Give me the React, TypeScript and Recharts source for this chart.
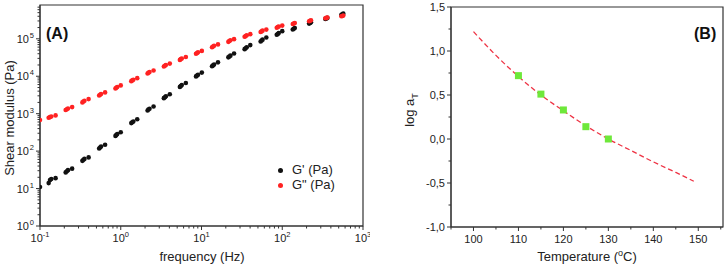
import React from "react";
import {
  ScatterChart,
  ComposedChart,
  Scatter,
  Line,
  XAxis,
  YAxis,
  ReferenceArea,
  Label,
} from "recharts";

// ---- panel A: G' / G'' master curve (frequency Hz, modulus Pa) ----
const gPrime: [number, number][] = [
  [0.1, 11],
  [0.128, 14], [0.133, 17], [0.138, 18], [0.156, 19],
  [0.208, 27], [0.215, 29], [0.222, 31], [0.25, 34],
  [0.335, 55], [0.345, 59], [0.355, 62], [0.4, 68],
  [0.54, 118], [0.555, 125], [0.57, 132], [0.64, 148],
  [0.86, 255], [0.88, 270], [0.905, 285], [1.0, 320],
  [1.35, 560], [1.39, 590], [1.43, 620], [1.6, 710],
  [2.15, 1220], [2.2, 1290], [2.27, 1360], [2.55, 1560],
  [3.42, 2600], [3.52, 2750], [3.62, 2900], [4.05, 3300],
  [5.4, 5200], [5.55, 5500], [5.7, 5800], [6.4, 6600],
  [8.55, 9900], [8.8, 10400], [9.05, 10900], [10.1, 12500],
  [13.5, 18500], [13.9, 19500], [14.3, 20500], [16, 23500],
  [21.5, 32000], [22.1, 33500], [22.8, 35500], [25.3, 40500],
  [34.2, 53000], [35.2, 56000], [36.3, 59500], [40.2, 68000],
  [54, 85000], [55.5, 90000], [57, 95000], [63.5, 108000],
  [85.5, 128000], [88, 135000], [90.5, 142000], [100, 160000],
  [135, 178000], [139, 186000], [143, 195000],
  [215, 255000], [221, 265000], [227, 275000],
  [342, 340000], [352, 350000], [362, 362000],
  [540, 440000], [556, 455000], [570, 470000],
];

const gDouble: [number, number][] = [
  [0.1, 680],
  [0.128, 780], [0.133, 810], [0.138, 840], [0.156, 900],
  [0.208, 1250], [0.215, 1310], [0.222, 1370], [0.25, 1500],
  [0.335, 2000], [0.345, 2120], [0.355, 2220], [0.4, 2450],
  [0.54, 3050], [0.555, 3200], [0.57, 3350], [0.64, 3700],
  [0.86, 4700], [0.88, 4950], [0.905, 5150], [1.0, 5700],
  [1.35, 7400], [1.39, 7750], [1.43, 8050], [1.6, 8900],
  [2.15, 11800], [2.2, 12400], [2.27, 12900], [2.55, 14200],
  [3.42, 18200], [3.52, 19100], [3.62, 19900], [4.05, 21800],
  [5.4, 27300], [5.55, 28700], [5.7, 29900], [6.4, 32800],
  [8.55, 39800], [8.8, 41800], [9.05, 43500], [10.1, 47500],
  [13.5, 59500], [13.9, 62500], [14.3, 65500], [16, 71000],
  [21.5, 83000], [22.1, 87000], [22.8, 91000], [25.3, 98000],
  [34.2, 113000], [35.2, 118000], [36.3, 124000], [40.2, 133000],
  [54, 152000], [55.5, 158000], [57, 165000], [63.5, 176000],
  [85.5, 198000], [88, 206000], [90.5, 214000], [100, 225000],
  [135, 248000], [139, 256000], [143, 265000],
  [215, 295000], [221, 303000], [227, 312000],
  [342, 355000], [352, 362000], [362, 370000],
  [540, 400000], [556, 408000], [570, 418000],
];

const freqTicks = [
  0.1, 0.2, 0.3, 0.4, 0.5, 0.6, 0.7, 0.8, 0.9,
  1, 2, 3, 4, 5, 6, 7, 8, 9,
  10, 20, 30, 40, 50, 60, 70, 80, 90,
  100, 200, 300, 400, 500, 600, 700, 800, 900, 1000,
];
const modTicks = [
  1, 2, 3, 4, 5, 6, 7, 8, 9,
  10, 20, 30, 40, 50, 60, 70, 80, 90,
  100, 200, 300, 400, 500, 600, 700, 800, 900,
  1000, 2000, 3000, 4000, 5000, 6000, 7000, 8000, 9000,
  10000, 20000, 30000, 40000, 50000, 60000, 70000, 80000, 90000,
  100000, 200000, 300000, 400000, 500000, 600000, 700000,
];

// ---- panel B: shift factors ----
const fitCurve: [number, number][] = [
  [100, 1.22], [105, 0.95], [110, 0.71], [115, 0.5], [120, 0.32],
  [125, 0.15], [130, 0.0], [135, -0.13], [140, -0.26], [145, -0.38],
  [149, -0.48],
];
const shiftPoints: [number, number][] = [
  [110, 0.72], [115, 0.51], [120, 0.33], [125, 0.14], [130, 0.0],
];
const tempTicks = [95, 100, 105, 110, 115, 120, 125, 130, 135, 140, 145, 150, 155];
const logTicks = [-1, -0.75, -0.5, -0.25, 0, 0.25, 0.5, 0.75, 1, 1.25, 1.5];

const AX = "#333";
const FONT = "'Liberation Sans', Arial, sans-serif";
const TXT = "#222";

const isDecade = (v: number) => {
  const l = Math.log10(v);
  return Math.abs(l - Math.round(l)) < 1e-6;
};

const LogTickX = ({ x, y, payload }: any) => {
  const v = payload.value;
  const major = isDecade(v);
  return (
    <g>
      <line x1={x} x2={x} y1={y} y2={y + (major ? 4 : 2.5)} stroke={AX} />
      {major && (
        <text x={x} y={y + 16} textAnchor="middle" fontSize={11} fill={TXT} fontFamily={FONT}>
          10
          <tspan dy={-5} fontSize={7.5}>
            {Math.round(Math.log10(v))}
          </tspan>
        </text>
      )}
    </g>
  );
};

const LogTickY = ({ x, y, payload }: any) => {
  const v = payload.value;
  const major = isDecade(v);
  const e = Math.round(Math.log10(v));
  return (
    <g>
      <line x1={x} x2={x - (major ? 4 : 2.5)} y1={y} y2={y} stroke={AX} />
      {major && (
        <text x={x - 11} y={y + 4} textAnchor="end" fontSize={11} fill={TXT} fontFamily={FONT}>
          10
        </text>
      )}
      {major && (
        <text x={x - 6} y={y - 1} textAnchor="end" fontSize={7.5} fill={TXT} fontFamily={FONT}>
          {e}
        </text>
      )}
    </g>
  );
};

const TempTick = ({ x, y, payload }: any) => {
  const v = payload.value;
  const major = v % 10 === 0;
  return (
    <g>
      <line x1={x} x2={x} y1={y} y2={y + (major ? 4 : 2.5)} stroke={AX} />
      {major && (
        <text x={x} y={y + 16} textAnchor="middle" fontSize={11} fill={TXT} fontFamily={FONT}>
          {v}
        </text>
      )}
    </g>
  );
};

const LogATick = ({ x, y, payload }: any) => {
  const v = payload.value;
  const major = Math.abs(v * 2 - Math.round(v * 2)) < 1e-6;
  return (
    <g>
      <line x1={x} x2={x - (major ? 4 : 2.5)} y1={y} y2={y} stroke={AX} />
      {major && (
        <text x={x - 6} y={y + 4} textAnchor="end" fontSize={11} fill={TXT} fontFamily={FONT}>
          {v.toFixed(1).replace(".", ",")}
        </text>
      )}
    </g>
  );
};

const Dot = (color: string) => (p: any) => <circle cx={p.cx} cy={p.cy} r={2.3} fill={color} />;
const Square = (p: any) => (
  <rect x={p.cx - 3.5} y={p.cy - 3.5} width={7} height={7} fill="#6ee83a" />
);

const App: React.FC = () => {
  const aData1 = gPrime.map(([f, g]) => ({ f, g }));
  const aData2 = gDouble.map(([f, g]) => ({ f, g }));
  const curve = fitCurve.map(([T, v]) => ({ T, v }));
  const squares = shiftPoints.map(([T, v]) => ({ T, v }));

  return (
    <div style={{ position: "absolute", left: 0, top: 0, width: 725, height: 267, background: "#fff", fontFamily: FONT }}>
      <div style={{ position: "absolute", left: 0, top: 0 }}>
        <ScatterChart width={370} height={267} margin={{ top: 5, right: 7, bottom: 0, left: 0 }}>
          <XAxis
            dataKey="f"
            type="number"
            scale="log"
            domain={[0.1, 1000]}
            ticks={freqTicks}
            interval={0}
            allowDataOverflow
            height={41}
            tickSize={0}
            tickMargin={0}
            tickLine={false}
            axisLine={{ stroke: AX }}
            tick={<LogTickX />}
          >
            <Label
              content={() => (
                <text x={202} y={261} textAnchor="middle" fontSize={13} fill={TXT} fontFamily={FONT}>
                  frequency (Hz)
                </text>
              )}
            />
          </XAxis>
          <YAxis
            dataKey="g"
            type="number"
            scale="log"
            domain={[1, 800000]}
            ticks={modTicks}
            interval={0}
            allowDataOverflow
            width={40}
            tickSize={0}
            tickMargin={0}
            tickLine={false}
            axisLine={{ stroke: AX }}
            tick={<LogTickY />}
          >
            <Label
              content={() => (
                <text
                  x={0}
                  y={0}
                  transform="translate(14,118) rotate(-90)"
                  textAnchor="middle"
                  fontSize={13}
                  fill={TXT}
                  fontFamily={FONT}
                >
                  Shear modulus (Pa)
                </text>
              )}
            />
          </YAxis>
          <ReferenceArea x1={0.1} x2={1000} y1={1} y2={800000} fill="none" stroke={AX} strokeWidth={1.2} ifOverflow="visible" />
          <Scatter data={aData1} shape={Dot("#111")} isAnimationActive={false} />
          <Scatter data={aData2} shape={Dot("#ff2222")} isAnimationActive={false} />
        </ScatterChart>
      </div>

      <div style={{ position: "absolute", left: 360, top: 0 }}>
        <ComposedChart width={365} height={267} margin={{ top: 7, right: 2, bottom: 0, left: 0 }}>
          <XAxis
            dataKey="T"
            type="number"
            domain={[95, 155.5]}
            ticks={tempTicks}
            interval={0}
            allowDataOverflow
            height={40}
            tickSize={0}
            tickMargin={0}
            tickLine={false}
            axisLine={{ stroke: AX }}
            tick={<TempTick />}
          >
            <Label
              content={() => (
                <text x={227} y={261} textAnchor="middle" fontSize={13} fill={TXT} fontFamily={FONT}>
                  Temperature (
                  <tspan dy={-5} fontSize={9}>o</tspan>
                  <tspan dy={5}>C)</tspan>
                </text>
              )}
            />
          </XAxis>
          <YAxis
            dataKey="v"
            type="number"
            domain={[-1, 1.5]}
            ticks={logTicks}
            interval={0}
            allowDataOverflow
            width={91}
            tickSize={0}
            tickMargin={0}
            tickLine={false}
            axisLine={{ stroke: AX }}
            tick={<LogATick />}
          >
            <Label
              content={() => (
                <text
                  x={0}
                  y={0}
                  transform="translate(54,110) rotate(-90)"
                  textAnchor="middle"
                  fontSize={13}
                  fill={TXT}
                  fontFamily={FONT}
                >
                  log a
                  <tspan dy={4} fontSize={9}>T</tspan>
                </text>
              )}
            />
          </YAxis>
          <ReferenceArea x1={95} x2={155.5} y1={-1} y2={1.5} fill="none" stroke={AX} strokeWidth={1.2} ifOverflow="visible" />
          <Line
            data={curve}
            dataKey="v"
            type="monotone"
            stroke="#ee3344"
            strokeWidth={1.3}
            strokeDasharray="5 3"
            dot={false}
            isAnimationActive={false}
          />
          <Scatter data={squares} dataKey="v" shape={Square} isAnimationActive={false} />
        </ComposedChart>
      </div>

      {/* panel letters and legend */}
      <div style={{ position: "absolute", left: 46, top: 25, fontSize: 16, fontWeight: "bold", color: "#111" }}>(A)</div>
      <div style={{ position: "absolute", left: 694, top: 25, fontSize: 16, fontWeight: "bold", color: "#111" }}>(B)</div>
      <div style={{ position: "absolute", left: 278, top: 162, fontSize: 13, color: TXT, lineHeight: "15px" }}>
        <div>
          <span style={{ display: "inline-block", width: 5, height: 5, borderRadius: 3, background: "#111", marginRight: 9, verticalAlign: "middle" }} />
          G' (Pa)
        </div>
        <div>
          <span style={{ display: "inline-block", width: 5, height: 5, borderRadius: 3, background: "#ff2222", marginRight: 9, verticalAlign: "middle" }} />
          G" (Pa)
        </div>
      </div>
    </div>
  );
};

export default App;
